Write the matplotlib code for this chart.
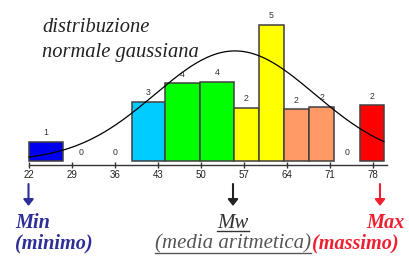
import matplotlib
matplotlib.use("Agg")
import matplotlib.pyplot as plt
import numpy as np
from matplotlib.lines import Line2D

# ---- data ----
bin_edges = [22.0, 27.6, 33.2, 38.7, 44.2, 49.8, 55.3, 59.4, 63.4, 67.6, 71.6, 75.8, 79.7]
counts = [1, 0, 0, 3, 4, 4, 2, 5, 2, 2, 0, 2]
bar_colors = ["#0000EE", "#FFFFFF", "#FFFFFF", "#00CCFF", "#00FF00", "#00FF00",
              "#FFFF00", "#FFFF00", "#FF9966", "#FF9966", "#FFFFFF", "#FF0000"]
tick_values = [22, 29, 36, 43, 50, 57, 64, 71, 78]
gauss_mean = 55.5
gauss_sigma = 13.0
gauss_peak = 1.01
title_lines = ["distribuzione", "normale gaussiana"]

W, H = 409, 256
fig = plt.figure(figsize=(W / 100, H / 100), dpi=100)
ax = fig.add_axes([0, 0, 1, 1])

PX_PER_X = 6.148
PX_PER_Y = 109.0
BASE_PY = 161.0
ax.set_xlim(22 - 29 / PX_PER_X, 22 + (W - 29) / PX_PER_X)
ax.set_ylim(-(H - BASE_PY) / PX_PER_Y, BASE_PY / PX_PER_Y)
ax.patch.set_alpha(0)

# histogram bars (height = count / width)
edges = np.array(bin_edges)
widths = np.diff(edges)
heights = np.array(counts) / widths
for left, w, h, c, col in zip(edges[:-1], widths, heights, counts, bar_colors):
    xc = left + w / 2
    if c > 0:
        ax.bar(left, h, width=w, align="edge", color=col, edgecolor="#404040",
               linewidth=1.1, zorder=2)
    ax.annotate(str(c), (xc, h), xytext=(0, 3.2), textcoords="offset points",
                ha="center", va="bottom", fontsize=6.3, color="#333333",
                family="Liberation Sans", zorder=4)

# gaussian curve
xs = np.linspace(bin_edges[0], bin_edges[-1], 300)
ys = gauss_peak * np.exp(-0.5 * ((xs - gauss_mean) / gauss_sigma) ** 2)
ax.plot(xs, ys, color="black", linewidth=0.9, zorder=3)

# x axis
for s in ["top", "left", "right"]:
    ax.spines[s].set_visible(False)
ax.spines["bottom"].set_position(("data", -3.8 / PX_PER_Y))
ax.spines["bottom"].set_bounds(22, 80.2)
ax.spines["bottom"].set_color("#333333")
ax.spines["bottom"].set_linewidth(1.0)
ax.set_xticks(tick_values)
ax.set_xticklabels([str(t) for t in tick_values], family="Liberation Sans",
                   fontsize=7, color="#222222")
ax.tick_params(axis="x", direction="inout", length=4, width=1.0, color="#333333", pad=2)
ax.set_yticks([])


def fx(px):
    return px / W


def fy(py):
    return 1 - py / H


# title
tkw = dict(family="Liberation Serif", style="italic", fontsize=14.8, color="#222222",
           transform=fig.transFigure, ha="left", va="baseline")
fig.text(fx(42), fy(32), title_lines[0], **tkw)
fig.text(fx(42), fy(57.5), title_lines[1], **tkw)

# arrows
def arrow(px, color):
    ax.annotate("", xy=(fx(px), fy(206)), xytext=(fx(px), fy(184)),
                xycoords="figure fraction", textcoords="figure fraction",
                arrowprops=dict(arrowstyle="-|>,head_length=0.38,head_width=0.3",
                                color=color, lw=1.5, shrinkA=0, shrinkB=0))

BLUE = "#2E2E98"
RED = "#EE2030"
arrow(28.5, BLUE)
arrow(233, "#222222")
arrow(380, RED)

bkw = dict(family="Liberation Serif", style="italic", weight="bold", fontsize=14.6,
           transform=fig.transFigure, va="baseline")
fig.text(fx(15), fy(228), "Min", color=BLUE, ha="left", **bkw)
fig.text(fx(15), fy(248), "(minimo)", color=BLUE, ha="left", **bkw)
fig.text(fx(405), fy(228), "Max", color=RED, ha="right", **bkw)
fig.text(fx(398.5), fy(248), "(massimo)", color=RED, ha="right", **bkw)

nkw = dict(family="Liberation Serif", style="italic", fontsize=15,
           transform=fig.transFigure, va="baseline", ha="center")
t1 = fig.text(fx(233), fy(228), "Mw", color="#333333", **nkw)
t2 = fig.text(fx(233), fy(248), "(media aritmetica)", color="#555555", **nkw)

fig.canvas.draw()
r = fig.canvas.get_renderer()
for t, py, col in [(t1, 230.5, "#333333"), (t2, 252.5, "#555555")]:
    bb = t.get_window_extent(r)
    fig.add_artist(Line2D([bb.x0 / W, bb.x1 / W], [fy(py), fy(py)],
                          transform=fig.transFigure, color=col, lw=1.0))

fig.savefig("out.png", dpi=100)
